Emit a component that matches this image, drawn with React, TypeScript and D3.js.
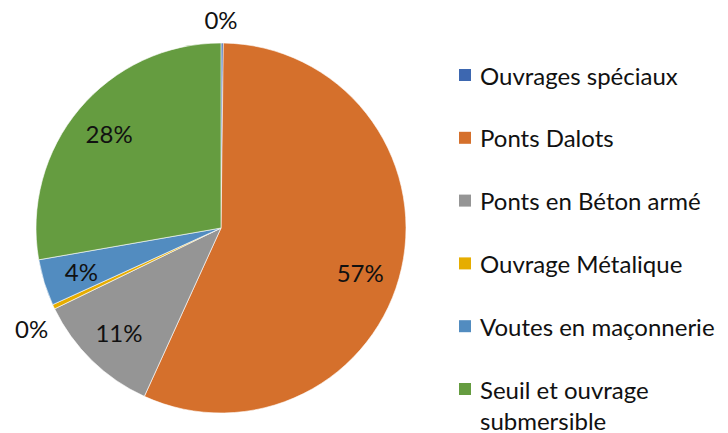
import React, { useEffect } from "react";
import * as d3 from "d3";

const categories = [
  "Ouvrages spéciaux",
  "Ponts Dalots",
  "Ponts en Béton armé",
  "Ouvrage Métalique",
  "Voutes en maçonnerie",
  "Seuil et ouvrage submersible",
];
const values = [0.2, 56.6, 11.0, 0.4, 4.05, 27.75];
const legendLines = [
  ["Ouvrages spéciaux"],
  ["Ponts Dalots"],
  ["Ponts en Béton armé"],
  ["Ouvrage Métalique"],
  ["Voutes en maçonnerie"],
  ["Seuil et ouvrage", "submersible"],
];
const colors = ["#3D67B0", "#D5702C", "#959595", "#E6AD00", "#528CC0", "#659C40"];

const W = 728;
const H = 433;
const cx = 221;
const cy = 228;
const R = 185;
const FONT = "Lato, 'Open Sans', sans-serif";
const FS = 24;

export default function App() {
  useEffect(() => {
    document.body.style.margin = "0";
  }, []);

  const total = d3.sum(values);
  const pie = d3
    .pie<number>()
    .sort(null)
    .value((d) => d)
    .startAngle(0)
    .endAngle(2 * Math.PI);
  const arcs = pie(values);
  const arcGen = d3.arc<d3.PieArcDatum<number>>().innerRadius(0).outerRadius(R);
  const labelArc = d3
    .arc<d3.PieArcDatum<number>>()
    .innerRadius(R * 0.79)
    .outerRadius(R * 0.79);

  const legendY = d3.scalePoint<number>().domain(d3.range(categories.length)).range([75, 389]);

  return (
    <svg width={W} height={H} style={{ display: "block", background: "#fff" }}>
      <g transform={`translate(${cx},${cy})`}>
        {arcs.map((a, i) => (
          <path key={i} d={arcGen(a) || ""} fill={colors[i]} stroke="#fff" strokeWidth={0.6} />
        ))}
        {arcs.map((a, i) => {
          const pct = Math.round((a.data / total) * 100);
          const small = a.endAngle - a.startAngle < 0.1;
          let x: number, y: number;
          if (small) {
            const m0 = (a.startAngle + a.endAngle) / 2;
            const mid = m0 > 0.1 ? m0 - 0.06 : 0;
            const rr = R + 24;
            x = Math.sin(mid) * rr - (m0 > 0.1 ? 6 : 0);
            y = -Math.cos(mid) * rr;
          } else {
            const mid = (a.startAngle + a.endAngle) / 2;
            const shift = a.endAngle - a.startAngle > Math.PI ? 0.09 : 0;
            const rr = R * 0.79;
            x = Math.sin(mid + shift) * rr;
            y = -Math.cos(mid + shift) * rr;
            if (!shift) [x, y] = labelArc.centroid(a);
          }
          return (
            <text
              key={i}
              x={x}
              y={y}
              textAnchor="middle"
              dominantBaseline="central"
              fontFamily={FONT}
              fontSize={FS}
              fill="#111"
            >
              {pct}%
            </text>
          );
        })}
      </g>
      <g>
        {categories.map((c, i) => {
          const y = legendY(i) as number;
          return (
            <g key={c}>
              <rect x={459} y={y - 6} width={12} height={12} fill={colors[i]} />
              {legendLines[i].map((ln, j) => (
                <text
                  key={j}
                  x={480}
                  y={y + j * 31}
                  dominantBaseline="central"
                  fontFamily={FONT}
                  fontSize={FS}
                  fill="#111"
                >
                  {ln}
                </text>
              ))}
            </g>
          );
        })}
      </g>
    </svg>
  );
}
